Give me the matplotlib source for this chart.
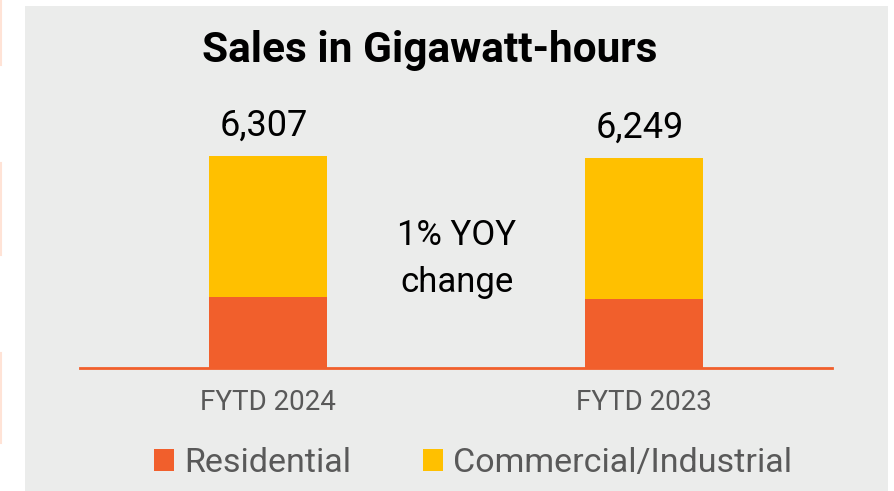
import matplotlib
matplotlib.use("Agg")
import matplotlib.pyplot as plt
from matplotlib.patches import Rectangle, Patch
from matplotlib.lines import Line2D

categories = ["FYTD 2024", "FYTD 2023"]
residential = [2112, 2053]
commercial = [4195, 4196]
totals = [6307, 6249]
series_names = ["Residential", "Commercial/Industrial"]

ORANGE = "#F15F2C"
YELLOW = "#FFC000"
PANEL = "#EBECEB"
GREY_TXT = "#595959"

plt.rcParams["font.family"] = ["Roboto", "DejaVu Sans"]

fig = plt.figure(figsize=(8.94, 4.91), dpi=100)
W, H = 894, 491

# grey panel and faint marks on the left edge
fig.patches.append(Rectangle((25 / W, 0), (888 - 25) / W, (491 - 6) / H,
                             transform=fig.transFigure, facecolor=PANEL,
                             edgecolor="none", zorder=-5))
for y0, y1 in [(0, 65), (163, 255), (353, 443)]:
    fig.add_artist(Line2D([0.001, 0.001], [1 - y0 / H, 1 - y1 / H],
                          transform=fig.transFigure, color="#FFE3D6", lw=1.5))

ax = fig.add_axes([80 / W, (H - 368) / H, 752 / W, 302.5 / H])
ax.set_facecolor("none")
x = list(range(len(categories)))
ax.bar(x, residential, width=0.314, color=ORANGE, zorder=2)
ax.bar(x, commercial, width=0.314, bottom=residential, color=YELLOW, zorder=2)
ax.set_xlim(-0.5, 1.5)
ax.set_ylim(0, 9000)

for s in ["top", "left", "right"]:
    ax.spines[s].set_visible(False)
ax.spines["bottom"].set_color(ORANGE)
ax.spines["bottom"].set_linewidth(2)
ax.spines["bottom"].set_zorder(3)
ax.set_yticks([])
ax.set_xticks(x)
ax.set_xticklabels(categories, fontsize=20, color=GREY_TXT)
ax.tick_params(axis="x", length=0, pad=15)

for i, t in enumerate(totals):
    ax.annotate(f"{t:,}", xy=(i, t), xytext=(-3, 14.4), textcoords="offset points",
                ha="center", va="baseline", fontsize=26, color="black")

fig.text(457 / W, 1 - 259 / H, "1% YOY\nchange", ha="center", va="center",
         fontsize=25, color="black", linespacing=1.55)

fig.text(430 / W, 1 - 62 / H, "Sales in Gigawatt-hours", ha="center", va="baseline",
         fontsize=30.5, fontweight="bold", color="black")

handles = [Patch(facecolor=ORANGE, edgecolor="none"), Patch(facecolor=YELLOW, edgecolor="none")]
leg = fig.legend(handles, series_names, loc="center", bbox_to_anchor=(473 / W, 1 - 463 / H),
                 ncol=2, frameon=False, fontsize=24.5, handlelength=0.6, handleheight=0.6,
                 handletextpad=0.3, columnspacing=2.1, borderaxespad=0)
for txt in leg.get_texts():
    txt.set_color(GREY_TXT)

fig.savefig("out.png", dpi=100)
